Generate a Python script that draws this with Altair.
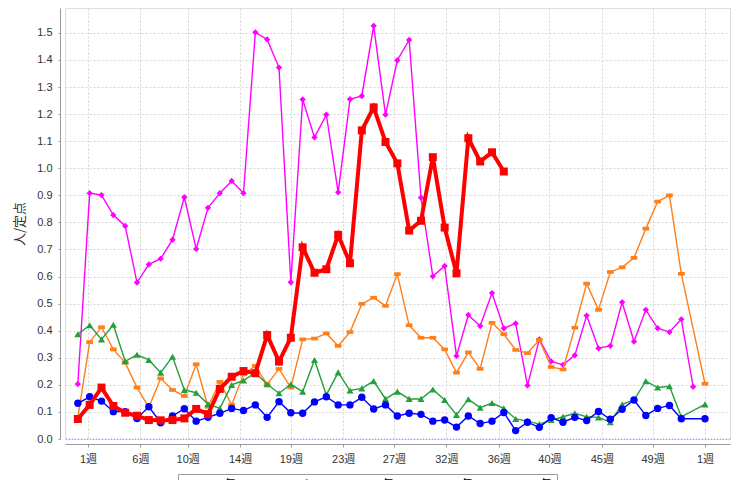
import altair as alt
import pandas as pd

# ---- data ----
weeks = list(range(54))  # weekly points, first one falls in the last week of the previous year
series_names = ["2014年", "2015年", "2016年", "2017年", "2018年"]

y2014 = [0.203, 0.908, 0.901, 0.827, 0.787, 0.578, 0.645, 0.666, 0.736, 0.893, 0.702, 0.854, 0.908, 0.953, 0.908,
         1.502, 1.476, 1.372, 0.579, 1.254, 1.114, 1.198, 0.911, 1.255, 1.267, 1.526, 1.198, 1.399, 1.474, 0.891, 0.601, 0.639,
         0.307, 0.458, 0.417, 0.539, 0.409, 0.427, 0.198, 0.368, 0.287, 0.274, 0.309,
         0.456, 0.335, 0.344, 0.505, 0.360, 0.477, 0.409, 0.395, 0.442, 0.193, None]
y2015 = [0.080, 0.358, 0.413, 0.331, 0.282, 0.190, 0.117, 0.224, 0.181, 0.159, 0.276, 0.119, 0.211, 0.126, 0.239,
         0.270, 0.202, 0.259, 0.190, 0.368, 0.371, 0.390, 0.344, 0.395, 0.499, 0.522, 0.492, 0.609, 0.420, 0.374, 0.374,
         0.331, 0.245, 0.320, 0.259, 0.429, 0.387, 0.329, 0.317, 0.366, 0.266, 0.257, 0.411,
         0.574, 0.477, 0.617, 0.634, 0.669, 0.777, 0.877, 0.900, 0.610, None, 0.204]
y2016 = [0.387, 0.420, 0.368, 0.422, 0.287, 0.311, 0.292, 0.245, 0.304, 0.181, 0.171, 0.129, 0.113, 0.200, 0.216,
         0.245, 0.202, 0.169, 0.202, 0.175, 0.292, 0.163, 0.246, 0.179, 0.187, 0.214, 0.148, 0.175, 0.148, 0.148, 0.183,
         0.144, 0.089, 0.147, 0.116, 0.133, 0.113, 0.074, 0.066, 0.055, 0.070, 0.082, 0.095,
         0.082, 0.080, 0.062, 0.128, 0.144, 0.214, 0.190, 0.195, 0.082, None, 0.128]
y2017 = [0.132, 0.156, 0.140, 0.101, 0.101, 0.076, 0.119, 0.060, 0.085, 0.112, 0.066, 0.080, 0.095, 0.113, 0.105,
         0.126, 0.080, 0.138, 0.097, 0.095, 0.137, 0.156, 0.126, 0.126, 0.154, 0.111, 0.126, 0.085, 0.095, 0.091, 0.066,
         0.070, 0.044, 0.085, 0.057, 0.066, 0.098, 0.031, 0.062, 0.043, 0.079, 0.062, 0.080,
         0.068, 0.102, 0.073, 0.110, 0.144, 0.087, 0.113, 0.124, 0.075, None, 0.075]
y2018 = [0.074, 0.126, 0.190, 0.122, 0.097, 0.086, 0.070, 0.069, 0.070, 0.076, 0.111, 0.092, 0.185, 0.230, 0.251,
         0.243, 0.384, 0.286, 0.374, 0.708, 0.614, 0.627, 0.754, 0.649, 1.140, 1.225, 1.097, 1.018, 0.770, 0.806, 1.041,
         0.781, 0.612, 1.111, 1.025, 1.059, 0.988] + [None] * 17

# month-start positions (day of year) labelled with their week number
tick_days = [0, 31, 59, 90, 120, 151, 181, 212, 243, 273, 304, 334, 365]
tick_labels = ["1週", "6週", "10週", "14週", "19週", "23週", "27週", "32週", "36週", "40週", "45週", "49週", "1週"]
y_ticks = [round(k / 10, 1) for k in range(16)]

colors = ["#ff00ff", "#ff7f1a", "#22a03c", "#0000ff", "#ff0000"]
shapes = ["diamond", "M-1,-0.55L1,-0.55L1,0.55L-1,0.55Z", "triangle-up", "circle", "square"]
line_widths = [1.4, 1.4, 1.4, 1.4, 4]
point_sizes = [40, 45, 50, 55, 64]
all_vals = [y2014, y2015, y2016, y2017, y2018]

rows = []
for name, vals in zip(series_names, all_vals):
    for w, v in zip(weeks, vals):
        if v is not None:
            rows.append({"series": name, "day": w * 7 - 6, "value": v})
df = pd.DataFrame(rows)

FONT = "Liberation Sans, Noto Sans CJK JP"
label_expr = "[" + ",".join("'%s'" % t for t in tick_labels) + "][indexof([" + ",".join(str(d) for d in tick_days) + "], datum.value)]"

x_enc = alt.X("day:Q",
              scale=alt.Scale(domain=[-13.6, 379.8], nice=False, zero=False),
              axis=alt.Axis(values=tick_days, labelExpr=label_expr, title=None, grid=True,
                            gridDash=[2, 2], gridColor="#d6d6d6", offset=5, tickSize=3, labelPadding=6,
                            domainColor="#999999", tickColor="#999999", labelFont=FONT, labelFontSize=11,
                            labelColor="#333333", labelFlush=False, labelOverlap=False))
y_enc = alt.Y("value:Q",
              scale=alt.Scale(domain=[0, 1.592], nice=False),
              axis=alt.Axis(values=y_ticks, format=".1f", title="人/定点", grid=True, gridDash=[2, 2],
                            gridColor="#d6d6d6", offset=5, tickSize=2, labelPadding=6,
                            domainColor="#999999", tickColor="#999999", labelFont=FONT, labelFontSize=11,
                            labelColor="#333333", labelOverlap=False, labelFlush=False,
                            titleFont="Noto Sans CJK JP", titleFontSize=13,
                            titleFontWeight="normal", titleColor="#333333", titlePadding=10))

legend = alt.Legend(title=None, orient="none", legendX=113, legendY=466, direction="horizontal",
                    strokeColor="#999999", padding=5, labelFont=FONT, labelFontSize=11,
                    columnPadding=24, symbolSize=50, labelOffset=6)
color_enc = alt.Color("series:N", scale=alt.Scale(domain=series_names, range=colors), legend=legend)
shape_enc = alt.Shape("series:N", scale=alt.Scale(domain=series_names, range=shapes), legend=legend)

zero_rule = alt.Chart(pd.DataFrame({"value": [0]})).mark_rule(
    color="#8c8cff", strokeDash=[1, 2], strokeWidth=1).encode(y=y_enc)

layers = [zero_rule]
for name, lw, ps in zip(series_names, line_widths, point_sizes):
    sub = df[df["series"] == name]
    base = alt.Chart(sub)
    layers.append(base.mark_line(strokeWidth=lw).encode(x=x_enc, y=y_enc, color=color_enc))
    layers.append(base.mark_point(filled=True, opacity=1, size=ps).encode(
        x=x_enc, y=y_enc, color=color_enc, shape=shape_enc))

chart = alt.layer(*layers).properties(
    width=665, height=431,
    autosize=alt.AutoSizeParams(type="none"),
    padding={"left": 57, "top": 0, "right": 1, "bottom": 41},
).configure_view(stroke="#c8c8c8", strokeWidth=1).configure(background="white")

chart.save("out.html", embed_options={"renderer": "svg", "actions": False})
